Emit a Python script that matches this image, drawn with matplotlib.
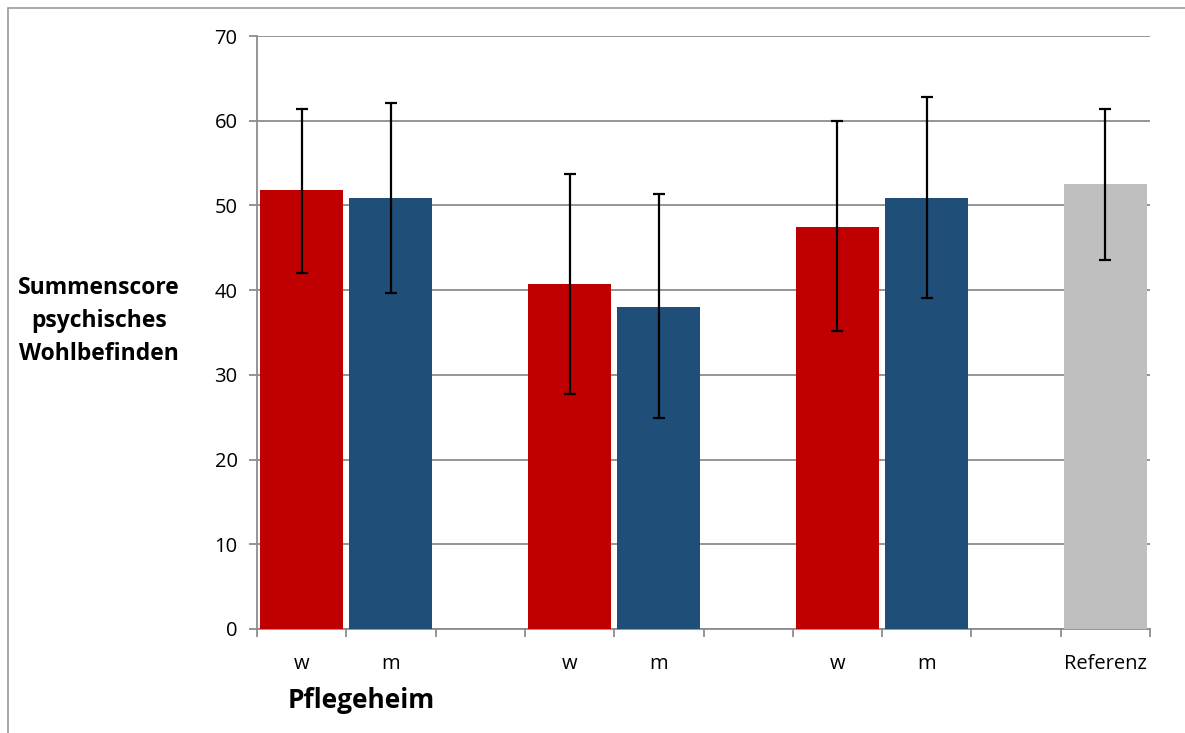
import matplotlib
matplotlib.use("Agg")
import matplotlib.pyplot as plt
from matplotlib.patches import Rectangle
import numpy as np

categories = ["w", "m", "", "w", "m", "", "w", "m", "", "Referenz"]
values = [51.8, 50.9, np.nan, 40.7, 38.0, np.nan, 47.5, 50.9, np.nan, 52.5]
err_high = [61.4, 62.1, np.nan, 53.7, 51.3, np.nan, 60.0, 62.8, np.nan, 61.4]
err_low = [42.0, 39.7, np.nan, 27.7, 24.9, np.nan, 35.2, 39.1, np.nan, 43.6]
colors = ["#C00000", "#1F4E79", "none", "#C00000", "#1F4E79", "none",
          "#C00000", "#1F4E79", "none", "#BFBFBF"]
yticks = [0, 10, 20, 30, 40, 50, 60, 70]
ylabel = "Summenscore\npsychisches\nWohlbefinden"
xlabel = "Pflegeheim"

plt.rcParams['font.family'] = ['Open Sans', 'DejaVu Sans']

W, H = 1185, 733
fig = plt.figure(figsize=(W / 100, H / 100), dpi=100)
ax = fig.add_axes([257 / W, 1 - 629 / H, (1150 - 257) / W, (629 - 36) / H])

# outer chart frame
fig.patches.append(Rectangle((8 / W, -0.1), 1.2, 1 - 8 / H + 0.1, transform=fig.transFigure,
                             fill=False, edgecolor="#9a9a9a", linewidth=1.2))

x = np.arange(len(categories))
vals = np.array(values, dtype=float)
hi = np.array(err_high, dtype=float)
lo = np.array(err_low, dtype=float)
mask = ~np.isnan(vals)

ax.bar(x[mask], vals[mask], width=0.93, color=[c for c, m in zip(colors, mask) if m],
       zorder=3)
ax.errorbar(x[mask], vals[mask], yerr=[vals[mask] - lo[mask], hi[mask] - vals[mask]],
            fmt="none", ecolor="black", elinewidth=1.6, capsize=4.5, capthick=1.6, zorder=4)

ax.set_xlim(-0.5, len(categories) - 0.5)
ax.set_ylim(0, 70)
ax.set_yticks(yticks)
ax.set_yticklabels([str(t) for t in yticks], fontsize=14.5)
ax.yaxis.grid(True, color="#8c8c8c", linewidth=1.3, zorder=0)
ax.set_axisbelow(True)

ax.set_xticks(np.arange(-0.5, len(categories) + 0.5, 1.0))
ax.set_xticklabels([])
ax.set_xticks(x, minor=True)
ax.set_xticklabels(categories, minor=True, fontsize=14.5)
ax.tick_params(axis="x", which="minor", length=0, pad=18)
ax.tick_params(axis="x", which="major", length=6, color="#8c8c8c", width=1.3, direction="out")
ax.tick_params(axis="y", length=6, color="#8c8c8c", width=1.3, direction="out", pad=8)

for s in ["top", "right"]:
    ax.spines[s].set_visible(False)
for s in ["left", "bottom"]:
    ax.spines[s].set_color("#8c8c8c")
    ax.spines[s].set_linewidth(1.3)

fig.text(99 / W, 1 - 321 / H, ylabel, ha="center", va="center", fontsize=16.5,
         fontweight="bold", linespacing=1.5)
fig.text(361 / W, 1 - 700 / H, xlabel, ha="center", va="center", fontsize=19,
         fontweight="bold")

fig.savefig("out.png", dpi=100)
